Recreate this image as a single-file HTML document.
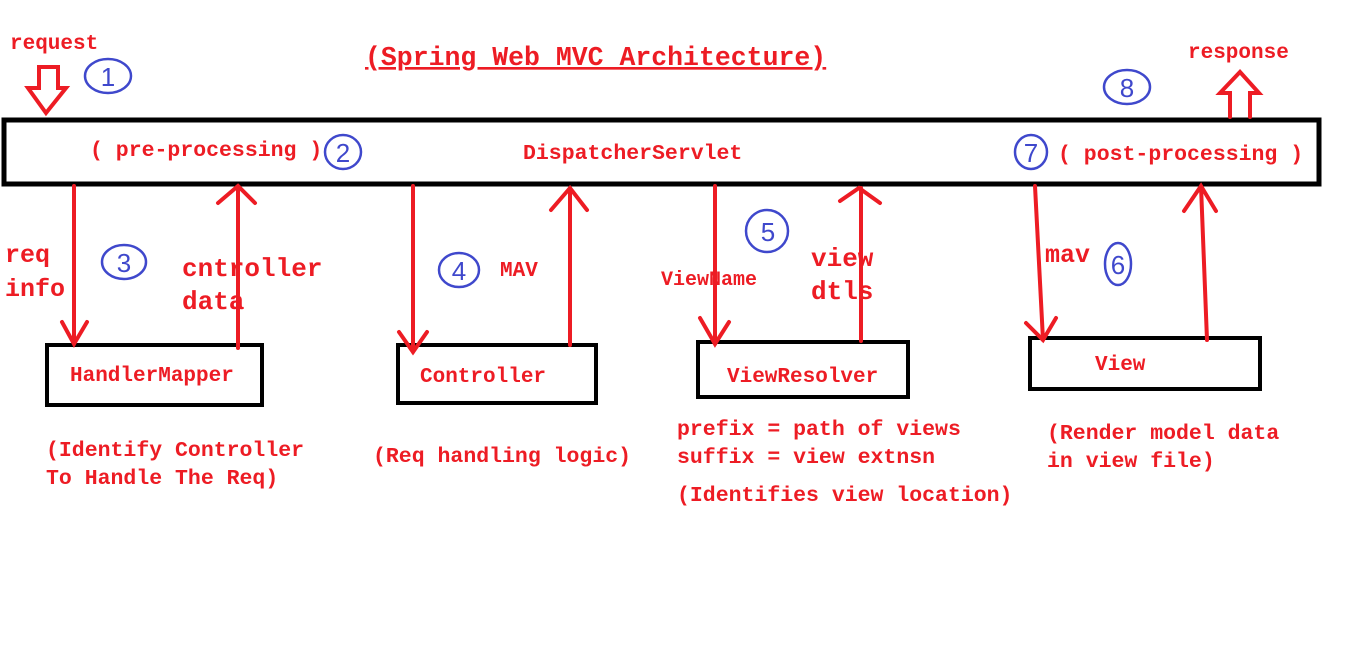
<!DOCTYPE html>
<html><head><style>body{margin:0;background:#fff}svg{display:block}</style></head><body>
<svg width="1359" height="654" xmlns="http://www.w3.org/2000/svg" font-family="Liberation Mono, monospace" font-weight="bold">
<rect width="1359" height="654" fill="#fff"/>
<g fill="#ed1c24">
<text x="10" y="49" font-size="21">request</text>
<text x="1188" y="58" font-size="21">response</text>
<text x="365" y="65" font-size="26.5" text-decoration="underline">(Spring Web MVC Architecture)</text>
<text x="90" y="156" font-size="21.5">( pre-processing )</text>
<text x="523" y="159" font-size="21.5">DispatcherServlet</text>
<text x="1058" y="160" font-size="21.5">( post-processing )</text>
<text x="5" y="262" font-size="25">req</text>
<text x="5" y="296" font-size="25">info</text>
<text x="182" y="276" font-size="26">cntroller</text>
<text x="182" y="309" font-size="26">data</text>
<text x="500" y="276" font-size="21">MAV</text>
<text x="661" y="285" font-size="20">ViewName</text>
<text x="811" y="266" font-size="26">view</text>
<text x="811" y="299" font-size="26">dtls</text>
<text x="1045" y="262" font-size="25">mav</text>
<text x="70" y="381" font-size="21">HandlerMapper</text>
<text x="420" y="382" font-size="21">Controller</text>
<text x="727" y="382" font-size="21">ViewResolver</text>
<text x="1095" y="370" font-size="21">View</text>
<text x="46" y="456" font-size="21.5">(Identify Controller</text>
<text x="46" y="484" font-size="21.5">To Handle The Req)</text>
<text x="373" y="462" font-size="21.5">(Req handling logic)</text>
<text x="677" y="435" font-size="21.5">prefix = path of views</text>
<text x="677" y="463" font-size="21.5">suffix = view extnsn</text>
<text x="677" y="501" font-size="21.5">(Identifies view location)</text>
<text x="1047" y="439" font-size="21.5">(Render model data</text>
<text x="1047" y="467" font-size="21.5">in view file)</text>
</g>
<g fill="none" stroke="#000" stroke-width="5">
<rect x="4" y="120" width="1315" height="64"/>
</g>
<g fill="none" stroke="#000" stroke-width="4">
<rect x="47" y="345" width="215" height="60"/>
<rect x="398" y="345" width="198" height="58"/>
<rect x="698" y="342" width="210" height="55"/>
<rect x="1030" y="338" width="230" height="51"/>
</g>
<g fill="none" stroke="#ed1c24" stroke-width="4" stroke-linecap="round">
<path d="M74 186V344M62 322L74 344L87 322"/>
<path d="M238 348V186M218 203L238 186L255 203"/>
<path d="M413 186V352M399 332L413 352L427 332"/>
<path d="M570 345V188M551 210L570 188L587 210"/>
<path d="M715 186V344M700 318L715 344L729 322"/>
<path d="M861 341V188M840 201L859 188L880 203"/>
<path d="M1035 186L1043 340M1026 323L1043 340L1056 318"/>
<path d="M1207 340L1201 186M1184 211L1201 186L1216 211"/>
<path d="M39 67H58V88H66L46 113L28 88H39Z"/>
<path d="M1230 117V93H1220L1240 72L1259 93H1250V117"/>
</g>
<g fill="none" stroke="#3f48cc" stroke-width="2.5">
<ellipse cx="108" cy="76" rx="23" ry="17"/>
<ellipse cx="343" cy="152" rx="18" ry="17"/>
<ellipse cx="124" cy="262" rx="22" ry="17"/>
<ellipse cx="459" cy="270" rx="20" ry="17"/>
<ellipse cx="767" cy="231" rx="21" ry="21"/>
<ellipse cx="1118" cy="264" rx="13" ry="21"/>
<ellipse cx="1031" cy="152" rx="16" ry="17"/>
<ellipse cx="1127" cy="87" rx="23" ry="17"/>
</g>
<g fill="#3f48cc" font-family="Liberation Sans, sans-serif" font-weight="normal" font-size="26" text-anchor="middle">
<text x="108" y="86">1</text>
<text x="343" y="162">2</text>
<text x="124" y="272">3</text>
<text x="459" y="280">4</text>
<text x="768" y="241">5</text>
<text x="1118" y="274">6</text>
<text x="1031" y="162">7</text>
<text x="1127" y="97">8</text>
</g>
</svg>
</body></html>
